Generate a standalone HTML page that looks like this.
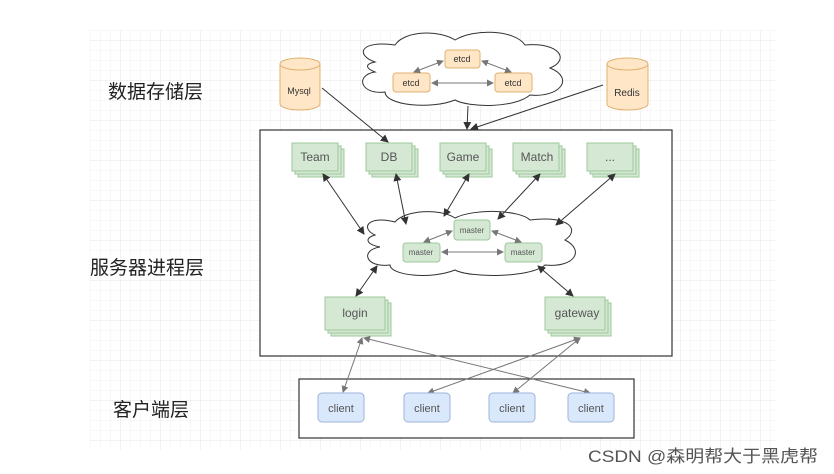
<!DOCTYPE html>
<html><head><meta charset="utf-8"><style>
body{margin:0;background:#fff;}
svg{display:block;font-family:"Liberation Sans","Noto Sans CJK SC",sans-serif;}
</style></head><body>
<svg width="834" height="474" viewBox="0 0 834 474" xmlns="http://www.w3.org/2000/svg">
<defs>
<pattern id="g" width="10" height="10" patternUnits="userSpaceOnUse"><path d="M10 0H0V10" fill="none" stroke="#f0f0f0" stroke-width="1"/></pattern>
<pattern id="G" width="40" height="40" patternUnits="userSpaceOnUse"><rect width="40" height="40" fill="url(#g)"/><path d="M40 0H0V40" fill="none" stroke="#e4e4e4" stroke-width="1"/></pattern>
<marker id="a" markerWidth="8" markerHeight="8" refX="7" refY="4" orient="auto-start-reverse" markerUnits="userSpaceOnUse"><path d="M0 0L8 4L0 8z" fill="#333"/></marker>
<marker id="b" markerWidth="7" markerHeight="7" refX="6" refY="3.5" orient="auto-start-reverse" markerUnits="userSpaceOnUse"><path d="M0 0L7 3.5L0 7z" fill="#777"/></marker>
</defs>
<rect x="90" y="30" width="685" height="420" fill="url(#G)"/>
<g font-size="19" fill="#222">
<text x="108" y="98">数据存储层</text>
<text x="90" y="274">服务器进程层</text>
<text x="113" y="416">客户端层</text>
</g>
<path d="M375 62 C355 55,360 40,395 45 C405 30,440 30,455 40 C475 28,515 30,525 45 C560 42,570 60,550 68 C575 78,560 98,530 95 C515 108,470 108,455 100 C430 110,385 105,385 92 C360 95,355 75,375 72 C365 68,365 64,375 62Z" fill="#fff" stroke="#333"/>
<g font-size="9" fill="#333" text-anchor="middle">
<rect x="445" y="50" width="35" height="18" rx="3" fill="#ffe6c7" stroke="#e0b070"/><text x="462" y="62">etcd</text>
<rect x="393" y="73" width="37" height="19" rx="3" fill="#ffe6c7" stroke="#e0b070"/><text x="411" y="86">etcd</text>
<rect x="495" y="73" width="37" height="19" rx="3" fill="#ffe6c7" stroke="#e0b070"/><text x="513" y="86">etcd</text>
</g>
<g stroke="#777" fill="none" marker-start="url(#b)" marker-end="url(#b)">
<line x1="443" y1="61" x2="414" y2="72"/><line x1="482" y1="61" x2="511" y2="72"/><line x1="432" y1="83" x2="493" y2="83"/>
</g>
<g fill="#ffe6c7" stroke="#e0b070">
<path d="M280 64 V104 A20 6 0 0 0 320 104 V64"/><ellipse cx="300" cy="64" rx="20" ry="6"/>
<path d="M607 64 V104 A20.5 6 0 0 0 648 104 V64"/><ellipse cx="627.5" cy="64" rx="20.5" ry="6"/>
</g>
<text x="299" y="94" font-size="9" text-anchor="middle" fill="#333">Mysql</text>
<text x="627" y="96" font-size="10" text-anchor="middle" fill="#333">Redis</text>
<rect x="260" y="130" width="412" height="226" fill="#fff" stroke="#333" stroke-width="1.2"/>
<g stroke="#333" fill="none" marker-end="url(#a)">
<line x1="322" y1="88" x2="388" y2="142"/>
<line x1="468" y1="106" x2="467" y2="129"/>
<line x1="603" y1="85" x2="471" y2="129"/>
</g>
<g fill="#d5e8d4" stroke="#9cc89a">
<g id="s"><rect x="298" y="149" width="46" height="28"/><rect x="295" y="146" width="46" height="28"/><rect x="292" y="143" width="46" height="28"/></g>
<use href="#s" x="74"/><use href="#s" x="148"/><use href="#s" x="221"/><use href="#s" x="295"/>
</g>
<g font-size="12" fill="#555" text-anchor="middle">
<text x="315" y="161">Team</text><text x="389" y="161">DB</text><text x="463" y="161">Game</text><text x="537" y="161">Match</text><text x="610" y="161">...</text>
</g>
<path d="M375 235 C360 228,368 215,395 222 C405 210,440 208,455 218 C475 208,520 210,530 220 C570 215,580 230,565 240 C585 250,575 268,545 265 C530 278,470 278,455 270 C430 280,390 275,390 265 C365 268,360 250,380 247 C365 244,365 238,375 235Z" fill="#fff" stroke="#333"/>
<g font-size="8" fill="#555" text-anchor="middle">
<rect x="454" y="220" width="36" height="20" rx="3" fill="#d5e8d4" stroke="#9cc89a"/><text x="472" y="233">master</text>
<rect x="403" y="243" width="37" height="19" rx="3" fill="#d5e8d4" stroke="#9cc89a"/><text x="421" y="255">master</text>
<rect x="505" y="243" width="37" height="19" rx="3" fill="#d5e8d4" stroke="#9cc89a"/><text x="523" y="255">master</text>
</g>
<g stroke="#777" fill="none" marker-start="url(#b)" marker-end="url(#b)">
<line x1="452" y1="231" x2="424" y2="242"/><line x1="492" y1="231" x2="521" y2="242"/><line x1="442" y1="252" x2="503" y2="252"/>
</g>
<g stroke="#333" fill="none" marker-start="url(#a)" marker-end="url(#a)">
<line x1="323" y1="174" x2="364" y2="234"/>
<line x1="396" y1="174" x2="406" y2="224"/>
<line x1="469" y1="174" x2="444" y2="216"/>
<line x1="540" y1="174" x2="498" y2="219"/>
<line x1="615" y1="174" x2="556" y2="225"/>
<line x1="377" y1="266" x2="356" y2="296"/>
<line x1="538" y1="266" x2="573" y2="296"/>
</g>
<g fill="#d5e8d4" stroke="#9cc89a">
<g id="l"><rect x="331" y="303" width="60" height="33"/><rect x="328" y="300" width="60" height="33"/><rect x="325" y="297" width="60" height="33"/></g>
<use href="#l" x="220"/>
</g>
<g font-size="12" fill="#555" text-anchor="middle"><text x="355" y="317">login</text><text x="577" y="317">gateway</text></g>
<rect x="299" y="379" width="335" height="59" fill="#fff" stroke="#333" stroke-width="1.2"/>
<g stroke="#777" fill="none" marker-start="url(#b)" marker-end="url(#b)">
<line x1="362" y1="338" x2="343" y2="392"/>
<line x1="364" y1="338" x2="590" y2="393"/>
<line x1="580" y1="338" x2="428" y2="393"/>
<line x1="580" y1="338" x2="513" y2="393"/>
</g>
<g fill="#dae8fc" stroke="#9db4d8">
<rect x="318" y="393" width="46" height="29" rx="4"/><rect x="404" y="393" width="46" height="29" rx="4"/><rect x="489" y="393" width="46" height="29" rx="4"/><rect x="568" y="393" width="46" height="29" rx="4"/>
</g>
<g font-size="11" fill="#555" text-anchor="middle">
<text x="341" y="412">client</text><text x="427" y="412">client</text><text x="512" y="412">client</text><text x="591" y="412">client</text>
</g>
<text x="588" y="462" font-size="17" fill="#555" textLength="230" lengthAdjust="spacingAndGlyphs">CSDN @森明帮大于黑虎帮</text>
</svg>
</body></html>
